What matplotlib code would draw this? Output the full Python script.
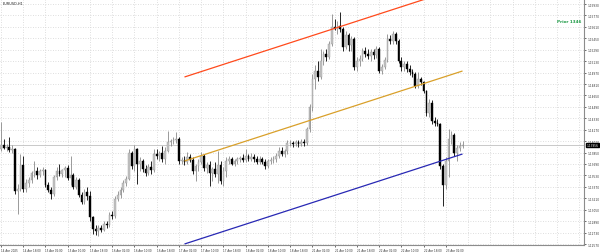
import matplotlib
matplotlib.use("Agg")
import matplotlib.pyplot as plt
import numpy as np

# ---------------- data (EURUSD, H1) ----------------
opens = [1.13900,1.13956,1.13914,1.13928,1.13886,1.13900,1.13312,1.13340,1.13676,1.13340,
         1.13424,1.13466,1.13564,1.13592,1.13536,1.13592,1.13606,1.13396,1.13326,1.13270,
         1.13508,1.13592,1.13550,1.13606,1.13634,1.13494,1.13536,1.13368,1.13466,1.13256,
         1.13158,1.13298,1.13242,1.12948,1.12780,1.12752,1.12794,1.12766,1.12850,1.12836,
         1.12976,1.12962,1.13200,1.13256,1.13326,1.13424,1.13480,1.13844,1.13662,1.13900,
         1.13690,1.13732,1.13620,1.13564,1.13648,1.13606,1.13830,1.13802,1.13844,1.13760,
         1.13872,1.13998,1.14012,1.14026,1.14040,1.13732,1.13746,1.13718,1.13788,1.13746,
         1.13592,1.13662,1.13718,1.13802,1.13634,1.13676,1.13564,1.13620,1.13550,1.13676,
         1.13452,1.13592,1.13732,1.13760,1.13690,1.13732,1.13760,1.13774,1.13746,1.13802,
         1.13760,1.13788,1.13760,1.13718,1.13760,1.13718,1.13662,1.13732,1.13746,1.13760,
         1.13802,1.13872,1.13830,1.13872,1.13984,1.13984,1.13970,1.13998,1.13970,1.13998,
         1.13984,1.14180,1.14488,1.14880,1.14992,1.14908,1.15132,1.15230,1.15188,1.15370,
         1.15608,1.15580,1.15622,1.15580,1.15328,1.15496,1.15356,1.15440,1.15048,1.15132,
         1.15160,1.15272,1.15230,1.15202,1.15258,1.15216,1.15300,1.14992,1.15048,1.15146,
         1.15440,1.15412,1.15510,1.15412,1.15132,1.15048,1.15090,1.15020,1.14978,1.14950,
         1.14782,1.14880,1.14838,1.14712,1.14404,1.14544,1.14292,1.14264,1.14250,1.13662,
         1.13396,1.13732,1.14040,1.14096,1.13844,1.13914,1.13942]
highs = [1.14278,1.14040,1.13970,1.14068,1.13956,1.13914,1.13410,1.13830,1.13802,1.13480,
         1.13508,1.13592,1.13732,1.13648,1.13620,1.13648,1.13620,1.13438,1.13368,1.13536,
         1.13648,1.13690,1.13620,1.13662,1.13676,1.13802,1.13564,1.13508,1.13494,1.13298,
         1.13340,1.13368,1.13312,1.12962,1.12836,1.12836,1.12836,1.12892,1.12892,1.13018,
         1.13032,1.13242,1.13312,1.13368,1.13466,1.13522,1.13900,1.13872,1.13956,1.13914,
         1.13788,1.13760,1.13676,1.13690,1.13732,1.13900,1.13900,1.13872,1.13942,1.13928,
         1.14152,1.14040,1.14068,1.14138,1.14068,1.13788,1.13802,1.13858,1.13830,1.13788,
         1.13690,1.13760,1.13858,1.13830,1.13718,1.13732,1.13648,1.13718,1.13872,1.13732,
         1.13648,1.13788,1.13802,1.13788,1.13760,1.13788,1.13802,1.13830,1.13900,1.13830,
         1.13844,1.13830,1.13802,1.13802,1.13788,1.13760,1.13760,1.13788,1.13802,1.13844,
         1.13928,1.13928,1.13900,1.14026,1.14026,1.14012,1.14026,1.14026,1.14040,1.14040,
         1.14208,1.14530,1.14950,1.15076,1.15132,1.15300,1.15272,1.15300,1.15412,1.15790,
         1.15720,1.15692,1.15818,1.15608,1.15552,1.15524,1.15482,1.15468,1.15188,1.15216,
         1.15314,1.15328,1.15300,1.15300,1.15300,1.15342,1.15328,1.15090,1.15188,1.15510,
         1.15496,1.15552,1.15538,1.15440,1.15188,1.15132,1.15132,1.15076,1.15020,1.14978,
         1.14978,1.14908,1.14852,1.14726,1.14600,1.14586,1.14348,1.14320,1.14264,1.13690,
         1.13788,1.14180,1.14152,1.14124,1.13956,1.13998,1.14012]
lows = [1.13872,1.13900,1.13872,1.13858,1.13844,1.13270,1.12990,1.13312,1.13298,1.13298,
        1.13368,1.13424,1.13508,1.13480,1.13508,1.13536,1.13368,1.13298,1.13200,1.13242,
        1.13466,1.13522,1.13508,1.13508,1.13466,1.13396,1.13340,1.13340,1.13228,1.13130,
        1.13130,1.13186,1.12892,1.12710,1.12696,1.12682,1.12738,1.12752,1.12794,1.12808,
        1.12920,1.12934,1.13172,1.13214,1.13298,1.13382,1.13466,1.13620,1.13592,1.13410,
        1.13592,1.13578,1.13522,1.13536,1.13550,1.13578,1.13760,1.13732,1.13718,1.13690,
        1.13858,1.13942,1.13970,1.13984,1.13690,1.13690,1.13676,1.13690,1.13718,1.13550,
        1.13452,1.13592,1.13690,1.13592,1.13564,1.13382,1.13452,1.13508,1.13424,1.13410,
        1.13382,1.13508,1.13690,1.13676,1.13662,1.13690,1.13718,1.13718,1.13718,1.13732,
        1.13732,1.13718,1.13690,1.13690,1.13690,1.13620,1.13634,1.13690,1.13704,1.13718,
        1.13774,1.13802,1.13788,1.13830,1.13942,1.13928,1.13942,1.13928,1.13942,1.13942,
        1.13956,1.14138,1.14432,1.14740,1.14852,1.14880,1.15076,1.15132,1.15160,1.15342,
        1.15566,1.15510,1.15538,1.15272,1.15300,1.15272,1.15272,1.15006,1.14992,1.15062,
        1.15132,1.15188,1.15160,1.15132,1.15160,1.15174,1.14964,1.14950,1.15020,1.15118,
        1.15370,1.15370,1.15370,1.15104,1.14992,1.14992,1.14978,1.14936,1.14908,1.14754,
        1.14754,1.14796,1.14684,1.14362,1.14348,1.14250,1.14222,1.14222,1.13620,1.13102,
        1.13340,1.13508,1.13970,1.13802,1.13732,1.13872,1.13914]
closes = [1.13956,1.13914,1.13928,1.13886,1.13900,1.13312,1.13340,1.13676,1.13340,1.13424,
          1.13466,1.13564,1.13592,1.13536,1.13592,1.13606,1.13396,1.13326,1.13270,1.13508,
          1.13592,1.13550,1.13606,1.13634,1.13494,1.13536,1.13368,1.13466,1.13256,1.13158,
          1.13298,1.13242,1.12948,1.12780,1.12752,1.12794,1.12766,1.12850,1.12836,1.12976,
          1.12962,1.13200,1.13256,1.13326,1.13424,1.13480,1.13844,1.13662,1.13900,1.13690,
          1.13732,1.13620,1.13564,1.13648,1.13606,1.13830,1.13802,1.13844,1.13760,1.13872,
          1.13998,1.14012,1.14026,1.14040,1.13732,1.13746,1.13718,1.13788,1.13746,1.13592,
          1.13662,1.13718,1.13802,1.13634,1.13676,1.13564,1.13620,1.13550,1.13676,1.13452,
          1.13592,1.13732,1.13760,1.13690,1.13732,1.13760,1.13774,1.13746,1.13802,1.13760,
          1.13788,1.13760,1.13718,1.13760,1.13718,1.13662,1.13732,1.13746,1.13760,1.13802,
          1.13872,1.13830,1.13872,1.13984,1.13984,1.13970,1.13998,1.13970,1.13998,1.13984,
          1.14180,1.14488,1.14880,1.14992,1.14908,1.15132,1.15230,1.15188,1.15370,1.15608,
          1.15580,1.15622,1.15580,1.15328,1.15496,1.15356,1.15440,1.15048,1.15132,1.15160,
          1.15272,1.15230,1.15202,1.15258,1.15216,1.15300,1.14992,1.15048,1.15146,1.15440,
          1.15412,1.15510,1.15412,1.15132,1.15048,1.15090,1.15020,1.14978,1.14950,1.14782,
          1.14880,1.14838,1.14712,1.14404,1.14544,1.14292,1.14264,1.14250,1.13662,1.13396,
          1.13732,1.14040,1.14096,1.13844,1.13914,1.13942,1.13956]

time_labels = ["14 Apr 2025", "14 Apr 18:00", "15 Apr 02:00", "15 Apr 10:00", "15 Apr 18:00",
               "16 Apr 02:00", "16 Apr 10:00", "16 Apr 18:00", "17 Apr 02:00", "17 Apr 10:00",
               "17 Apr 18:00", "18 Apr 02:00", "18 Apr 10:00", "18 Apr 18:00", "21 Apr 02:00",
               "21 Apr 10:00", "21 Apr 18:00", "22 Apr 02:00", "22 Apr 10:00", "22 Apr 18:00",
               "23 Apr 02:00"]
label_step = 8  # bars between time labels

price_ticks = [1.12570, 1.12730, 1.12890, 1.13050, 1.13210, 1.13370, 1.13530, 1.13690,
               1.13850, 1.14010, 1.14170, 1.14330, 1.14490, 1.14650, 1.14810, 1.14970,
               1.15130, 1.15290, 1.15450, 1.15610, 1.15770, 1.15930]

# channel (three parallel lines), start/end bar and prices
chan_bars = [66, 166]
chan_upper = [1.14908, 1.16168]
chan_mid = [1.13732, 1.14992]
chan_lower = [1.12570, 1.13830]

symbol = "EURUSD,H1"
note = "Prior 1346"

# ---------------- figure ----------------
W, H = 600, 253
fig = plt.figure(figsize=(W / 100, H / 100), dpi=100)
fig.patch.set_facecolor("white")
ax = fig.add_axes([0, 7 / H, 584 / W, 246 / H])
ax.set_facecolor("white")

n = len(closes)
x = np.arange(n)
o = np.array(opens); c = np.array(closes); h = np.array(highs); l = np.array(lows)

ax.set_xlim(-0.36, 209.7)
ax.set_ylim(1.12556, 1.16000)

# grid
grid_col = "#d4d4d4"
for gx in range(0, 210, label_step):
    ax.axvline(gx, color=grid_col, lw=0.6, ls=(0, (1, 2)), zorder=0)
for p in price_ticks:
    ax.axhline(p, color=grid_col, lw=0.6, ls=(0, (1, 2)), zorder=0)

# bid line
ax.axhline(closes[-1], color="#c0c0c0", lw=0.6, zorder=1)

# candles
up = c >= o
bull_body, bull_edge, bull_wick = "#c4c4c4", "#9a9a9a", "#8a8a8a"
bear_body, bear_wick = "#000000", "#000000"
ax.vlines(x[up], l[up], h[up], color=bull_wick, lw=0.6, zorder=2)
ax.vlines(x[~up], l[~up], h[~up], color=bear_wick, lw=0.6, zorder=2)
body_h = np.maximum(np.abs(c - o), 0.00004)
body_b = np.minimum(o, c)
ax.bar(x[up], body_h[up], bottom=body_b[up], width=0.62, color=bull_body,
       edgecolor=bull_edge, linewidth=0.3, zorder=3)
ax.bar(x[~up], body_h[~up], bottom=body_b[~up], width=0.62, color=bear_body,
       edgecolor=bear_body, linewidth=0.3, zorder=3)

# channel lines
ax.plot(chan_bars, chan_upper, color="#ff4a1c", lw=0.9, zorder=4, solid_capstyle="butt")
ax.plot(chan_bars, chan_mid, color="#d9a02a", lw=0.9, zorder=4, solid_capstyle="butt")
ax.plot(chan_bars, chan_lower, color="#2828b4", lw=0.9, zorder=4, solid_capstyle="butt")

# axes styling
for s in ["left", "top"]:
    ax.spines[s].set_visible(False)
for s in ["right", "bottom"]:
    ax.spines[s].set_color("#8c8c8c")
    ax.spines[s].set_linewidth(0.8)

ax.yaxis.tick_right()
ax.set_yticks(price_ticks)
ax.set_yticklabels([f"{p:.5f}" for p in price_ticks])
ax.tick_params(axis="y", length=1.5, width=0.5, pad=1.0, labelsize=2.1, colors="#333333")
ax.set_xticks(list(range(0, len(time_labels) * label_step, label_step)))
ax.set_xticklabels(time_labels)
ax.tick_params(axis="x", length=1.5, width=0.5, pad=0.5, labelsize=2.0, colors="#333333")
for t in ax.get_xticklabels():
    t.set_horizontalalignment("left")
for t in ax.get_yticklabels():
    t.set_horizontalalignment("left")

# current price box
ax.text(1.0045, closes[-1], f"{closes[-1]:.5f}", transform=ax.get_yaxis_transform(),
        fontsize=2.1, color="white", va="center", ha="left", zorder=6, clip_on=False,
        bbox=dict(boxstyle="square,pad=0.12", fc="black", ec="black"))

# texts
ax.text(0.005, 0.99, symbol, transform=ax.transAxes, fontsize=2.5, color="#222222",
        va="top", ha="left")
ax.text(0.995, 0.912, note, transform=ax.transAxes, fontsize=3.0, color="#1e9a46",
        fontweight="bold", va="center", ha="right")

fig.savefig("out.png", dpi=100)
